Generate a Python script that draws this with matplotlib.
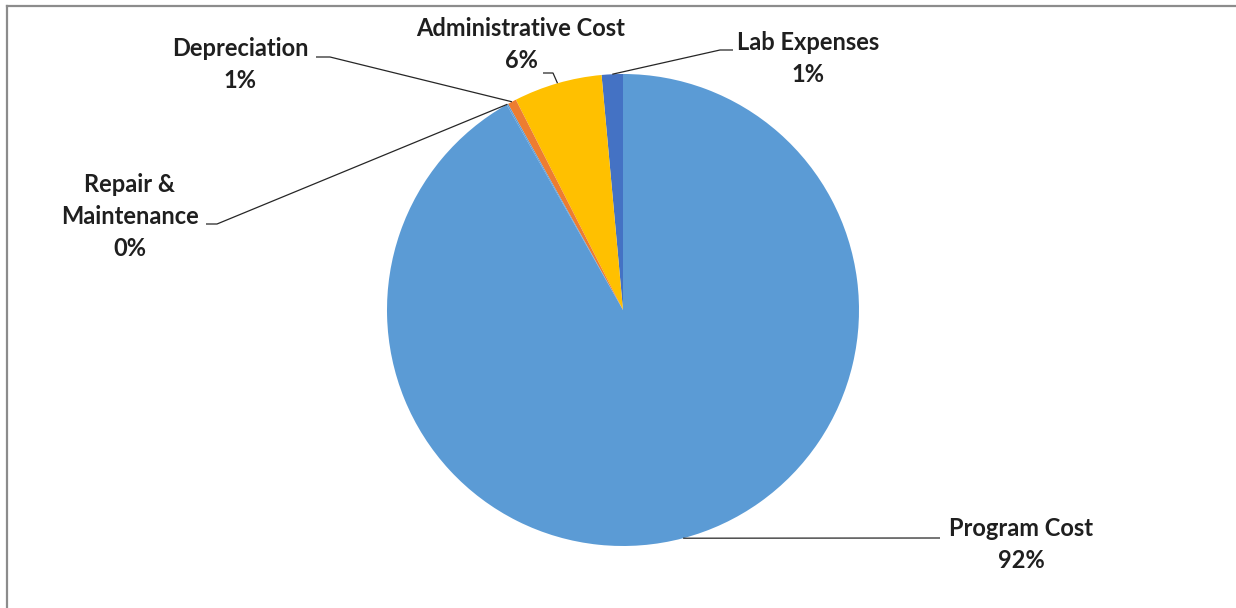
import numpy as np
import matplotlib.pyplot as plt

# slices, listed counterclockwise from 12 o'clock
labels = ["Lab Expenses", "Administrative Cost", "Depreciation", "Repair &\nMaintenance", "Program Cost"]
shares = [1.45, 6.05, 0.6, 0.1, 91.8]
colors = ["#4472C4", "#FFC000", "#ED7D31", "#5B9BD5", "#5B9BD5"]

H = 608
def py(y):
    return H - y

fig = plt.figure(figsize=(12.36, 6.08), dpi=100)
ax = fig.add_axes([0, 0, 1, 1])

cx, cy, r = 623, py(310), 236
wedges, _ = ax.pie(shares, colors=colors, startangle=90, counterclock=True,
                   center=(cx, cy), radius=r,
                   wedgeprops=dict(linewidth=0))
ax.set_xlim(0, 1236)
ax.set_ylim(0, H)
ax.axis("off")

# label centres (pixels) and leader-line bend points
label_pos = [(808, 42), (521, 28), (240, 49), (130, 185), (1021, 528)]
leader_pts = [
    [(720, 50), (733, 50)],
    [(553, 73), (543, 73)],
    [(330, 57), (316, 57)],
    [(217, 224), (206, 224)],
    [(940, 538)],
]

txt = dict(fontsize=17, fontweight="bold", color="#1f1f1f", family=["Lato", "DejaVu Sans"],
           ha="center", va="center")
step = 32
for w, lab, v, (lx, ly), pts in zip(wedges, labels, shares, label_pos, leader_pts):
    lines = lab.split("\n") + [f"{round(v)}%"]
    for i, s in enumerate(lines):
        ax.text(lx, py(ly + i * step), s, **txt)
    mid = np.deg2rad((w.theta1 + w.theta2) / 2)
    ax0 = cx + r * np.cos(mid)
    ay0 = cy + r * np.sin(mid)
    xs = [ax0] + [p[0] for p in pts]
    ys = [ay0] + [py(p[1]) for p in pts]
    ax.plot(xs, ys, color="#262626", lw=0.9, solid_capstyle="butt")

# chart border (left and top visible)
ax.plot([7, 7], [py(6), 0], color="#8c8c8c", lw=1.6)
ax.plot([7, 1236], [py(6), py(6)], color="#8c8c8c", lw=1.6)

fig.savefig("out.png", dpi=100)
